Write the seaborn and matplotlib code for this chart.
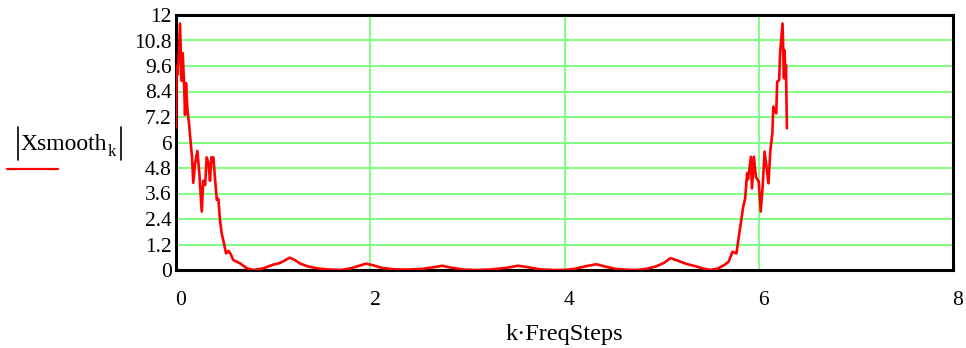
import matplotlib
matplotlib.use("Agg")
import matplotlib.pyplot as plt
import matplotlib.lines as mlines
from matplotlib.transforms import ScaledTranslation
import seaborn as sns
import pandas as pd

# Spectrum samples: frequency (k·FreqSteps) and smoothed magnitude |Xsmooth_k|
freq = [
    0.000, 0.007, 0.020, 0.041, 0.059, 0.069, 0.082, 0.093, 0.103, 0.117,
    0.134, 0.151, 0.165, 0.178, 0.196, 0.220, 0.240, 0.265, 0.280, 0.300,
    0.316, 0.336, 0.350, 0.364, 0.385, 0.400, 0.420, 0.436, 0.453, 0.470,
    0.494, 0.515, 0.540, 0.563, 0.590, 0.660, 0.730, 0.800,
    0.900, 1.000, 1.070, 1.120, 1.170, 1.220, 1.280, 1.350, 1.450, 1.550,
    1.700, 1.800, 1.900, 1.960, 2.030, 2.120, 2.250, 2.400, 2.550, 2.680,
    2.740, 2.820, 2.960, 3.100, 3.230, 3.400, 3.520, 3.600, 3.750, 3.900,
    3.990, 4.100, 4.220, 4.330, 4.430, 4.530, 4.650, 4.740, 4.850, 4.950,
    5.030, 5.090, 5.160, 5.260, 5.330, 5.420, 5.500, 5.580, 5.650, 5.690,
    5.730, 5.770, 5.790, 5.815, 5.840, 5.860, 5.880, 5.890, 5.920, 5.930,
    5.950, 5.970, 6.000, 6.020, 6.040, 6.060, 6.080, 6.100, 6.120, 6.140,
    6.150, 6.180, 6.190, 6.210, 6.220, 6.245, 6.260, 6.265, 6.275, 6.280,
    6.290,
]
magnitude = [
    6.70, 9.60, 9.20, 11.60, 8.90, 10.20, 8.90, 7.30, 8.80, 7.60,
    6.90, 6.00, 5.30, 4.10, 5.00, 5.60, 4.55, 2.75, 4.20, 4.00,
    5.30, 5.00, 4.20, 5.30, 5.30, 4.40, 3.30, 3.35, 2.35, 1.73,
    1.25, 0.78, 0.90, 0.75, 0.47, 0.31, 0.08, 0.00,
    0.08, 0.25, 0.33, 0.45, 0.58, 0.48, 0.30, 0.18, 0.08, 0.03,
    0.00, 0.08, 0.22, 0.30, 0.22, 0.10, 0.03, 0.02, 0.06, 0.15,
    0.20, 0.12, 0.02, 0.00, 0.02, 0.10, 0.20, 0.15, 0.03, 0.00,
    0.00, 0.05, 0.18, 0.27, 0.15, 0.05, 0.01, 0.00, 0.06, 0.18,
    0.35, 0.56, 0.45, 0.28, 0.20, 0.08, 0.00, 0.07, 0.25, 0.39,
    0.86, 0.78, 1.41, 2.20, 2.98, 3.37, 4.55, 4.27, 5.33, 3.84,
    5.33, 4.39, 4.16, 2.75, 3.92, 5.57, 4.86, 4.08, 5.65, 6.43,
    7.69, 7.37, 8.86, 8.94, 10.20, 11.60, 9.02, 10.35, 9.02, 9.65,
    6.67,
]

x_ticks = [0, 2, 4, 6, 8]
y_ticks = [0, 1.2, 2.4, 3.6, 4.8, 6, 7.2, 8.4, 9.6, 10.8, 12]
y_tick_labels = ["0", "1.2", "2.4", "3.6", "4.8", "6", "7.2", "8.4", "9.6", "10.8", "12"]

sns.set_theme(style="white")
plt.rcParams["font.family"] = ["Liberation Serif", "DejaVu Serif"]

df = pd.DataFrame({"freq": freq, "mag": magnitude})

fig = plt.figure(figsize=(9.66, 3.48), dpi=100)
W, H = 966, 348
ax = fig.add_axes([176 / W, (H - 270) / H, 777 / W, 255 / H])

grid_color = "#80ff80"
for yv in y_ticks[1:-1]:
    ax.axhline(yv, color=grid_color, lw=1.4, zorder=1)
for xv in x_ticks[1:-1]:
    ax.axvline(xv, color=grid_color, lw=1.4, zorder=1)

sns.lineplot(data=df, x="freq", y="mag", ax=ax, color="#ff0000", lw=1.9,
             estimator=None, sort=False, zorder=3)

ax.set_xlim(0, 8)
ax.set_ylim(0, 12)
ax.set_xticks(x_ticks)
ax.set_xticklabels([str(v) for v in x_ticks])
ax.set_yticks(y_ticks)
ax.set_yticklabels(y_tick_labels)
ax.tick_params(axis="both", length=0, labelsize=15.5, colors="black")
ax.tick_params(axis="x", pad=15)
ax.tick_params(axis="y", pad=3)
for lab in ax.get_xticklabels():
    lab.set_transform(lab.get_transform() + ScaledTranslation(5 / 100, 0, fig.dpi_scale_trans))

for sp in ax.spines.values():
    sp.set_visible(True)
    sp.set_color("black")
    sp.set_linewidth(2.2)

ax.set_xlabel("k·FreqSteps", fontsize=17.5, color="black", labelpad=10.5)
ax.set_ylabel("")

# Y-axis trace label |Xsmooth_k| with its legend swatch
def fx(px):
    return px / W

def fy(py):
    return 1 - py / H

fig.text(fx(20.5), fy(150), "Xsmooth", fontsize=17, ha="left", va="baseline", color="black")
fig.text(fx(108), fy(156), "k", fontsize=12, ha="left", va="baseline", color="black")
for bx in (17.5, 121.5):
    fig.add_artist(mlines.Line2D([fx(bx), fx(bx)], [fy(127), fy(160)],
                                 color="black", lw=1.2, transform=fig.transFigure))
fig.add_artist(mlines.Line2D([fx(7), fx(58)], [fy(169), fy(169)],
                             color="#ff0000", lw=1.6, transform=fig.transFigure))

fig.savefig("out.png", dpi=100)
